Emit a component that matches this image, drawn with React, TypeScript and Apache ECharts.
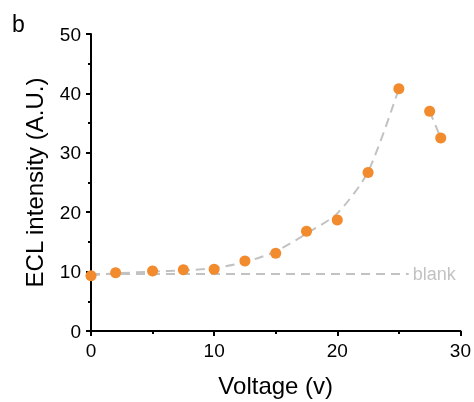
import { useRef, useEffect } from "react";
import * as echarts from "echarts";

// measured points
const voltage = [0, 2, 5, 7.5, 10, 12.5, 15, 17.5, 20, 22.5, 25, 27.5, 28.4];
const intensity = [9.3, 9.8, 10.1, 10.3, 10.4, 11.8, 13.1, 16.8, 18.7, 26.7, 40.8, 37.0, 32.5];

// guide curve (rising part, then the falling part)
const fitRiseX = [0, 2, 5, 7.5, 10, 12.5, 15, 17.5, 20, 22.5, 25];
const fitRiseY = [9.4, 9.7, 10.0, 10.2, 10.6, 11.6, 13.4, 16.4, 19.8, 26.8, 40.8];
const fitFallX = [27.5, 28.4];
const fitFallY = [37.0, 32.5];

// blank baseline
const blankX = [0, 25.8];
const blankY = [9.6, 9.6];

const xTicks = [0, 30, 10];
const yTicks = [0, 50, 10];

const FONT = "Liberation Sans, Arial, sans-serif";
const GREY = "#c2c2c2";

const zip = (xs: number[], ys: number[]) => xs.map((x, i) => [x, ys[i]]);

export default function App() {
  const chartRef = useRef<HTMLDivElement>(null);

  useEffect(() => {
    if (!chartRef.current) return;
    const chart = echarts.init(chartRef.current, null, { renderer: "svg" });

    const axisCommon = {
      axisLine: { show: true, lineStyle: { color: "#000", width: 2 } },
      axisTick: { show: true, inside: false, length: 5, lineStyle: { color: "#000", width: 2 } },
      minorTick: { show: true, splitNumber: 2, length: 3, lineStyle: { color: "#000", width: 2 } },
      splitLine: { show: false },
      axisLabel: { color: "#000", fontSize: 19, fontFamily: FONT, margin: 10 },
      nameTextStyle: { color: "#000", fontSize: 24, fontFamily: FONT },
      nameLocation: "middle" as const,
    };

    const dashed = { color: GREY, width: 2, type: [9, 6] as number[] };

    chart.setOption({
      animation: false,
      textStyle: { fontFamily: FONT },
      grid: { left: 91, right: 9, top: 34, bottom: 65, containLabel: false },
      graphic: [
        {
          type: "text",
          left: 12,
          top: 12,
          style: { text: "b", fontSize: 23, fontFamily: FONT, fill: "#000" },
        },
      ],
      xAxis: {
        type: "value",
        min: xTicks[0],
        max: xTicks[1],
        interval: xTicks[2],
        name: "Voltage (v)",
        nameGap: 42,
        ...axisCommon,
      },
      yAxis: {
        type: "value",
        min: yTicks[0],
        max: yTicks[1],
        interval: yTicks[2],
        name: "ECL intensity (A.U.)",
        nameGap: 45,
        ...axisCommon,
      },
      series: [
        {
          name: "blank",
          type: "line",
          data: zip(blankX, blankY),
          symbol: "none",
          lineStyle: dashed,
          endLabel: {
            show: true,
            formatter: "blank",
            color: GREY,
            fontSize: 18,
            fontFamily: FONT,
            distance: 4,
          },
          z: 1,
        },
        {
          name: "fit rise",
          type: "line",
          data: zip(fitRiseX, fitRiseY),
          symbol: "none",
          smooth: 0.25,
          lineStyle: dashed,
          z: 1,
        },
        {
          name: "fit fall",
          type: "line",
          data: zip(fitFallX, fitFallY),
          symbol: "none",
          lineStyle: dashed,
          z: 1,
        },
        {
          name: "ECL",
          type: "scatter",
          data: zip(voltage, intensity),
          symbol: "circle",
          symbolSize: 11,
          itemStyle: { color: "#f28a2e", opacity: 1 },
          z: 3,
        },
      ],
    });

    return () => {
      chart.dispose();
    };
  }, []);

  return (
    <div
      ref={chartRef}
      style={{ position: "fixed", left: 0, top: 0, width: "474px", height: "402px" }}
    />
  );
}
